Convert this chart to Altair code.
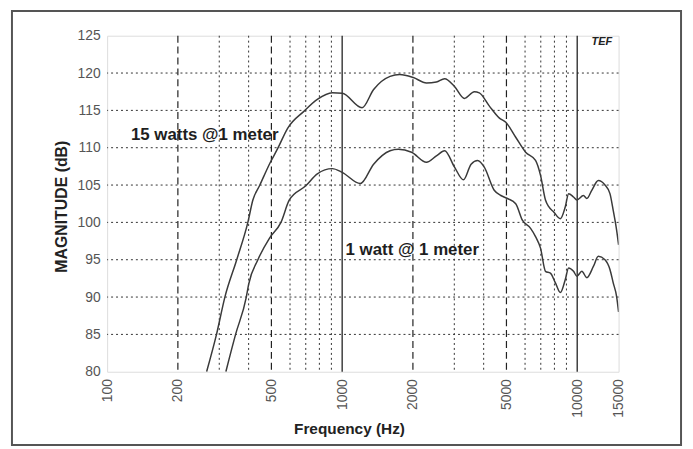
import altair as alt
import pandas as pd

# ---- data ----
freq_15w = [265, 292, 317, 356, 397, 417, 445, 495, 532, 586, 689, 784, 908, 1000,
            1215, 1361, 1599, 1757, 2007, 2284, 2517, 2729, 3007, 3314, 3651, 3833,
            4224, 4655, 4969, 5475, 6033, 6648, 6982, 7328, 7568, 7943, 8478, 8900,
            9191, 9647, 9970, 10631, 10990, 11535, 12300, 13128, 13783, 14231, 14707, 15000]
db_15w = [80, 85, 90, 95, 100, 103, 104.9, 108.05, 109.9, 112.6, 114.9, 116.46, 117.35, 117.3,
          115.35, 117.8, 119.56, 119.8, 119.4, 118.67, 118.8, 119.25, 118.2, 116.6, 117.5, 117.35,
          115.6, 114.0, 113.4, 111.4, 109.4, 108.3, 106.3, 103.0, 102.1, 101.4, 100.5, 102.1,
          103.85, 103.4, 103.0, 103.6, 103.2, 104.3, 105.6, 105.0, 103.85, 101.6, 99.0, 97.0]

freq_1w = [320, 352, 391, 400, 438, 491, 549, 596, 700, 784, 908, 1000, 1195, 1361, 1599,
           1735, 1974, 2284, 2517, 2729, 3007, 3281, 3536, 3774, 4024, 4436, 4733, 5050,
           5475, 5844, 6334, 6648, 6982, 7328, 7693, 8077, 8478, 8900, 9191, 9647, 9970,
           10466, 10990, 11718, 12300, 13128, 13783, 14231, 14707, 15000]
db_1w = [80, 85, 90, 91.7, 95, 97.9, 100, 103, 104.9, 106.5, 107.2, 106.7, 105.2, 107.8, 109.6,
         109.8, 109.4, 108.05, 108.9, 109.6, 107.4, 105.7, 107.8, 108.3, 107.4, 104.3, 103.6, 103.2,
         102.5, 100.3, 99.2, 98.1, 96.55, 93.45, 93.2, 91.9, 90.6, 92.35, 93.9, 93.45, 92.8,
         93.45, 92.6, 94.1, 95.45, 95.0, 93.7, 91.9, 90.1, 88.0]

x_ticks = [100, 200, 500, 1000, 2000, 5000, 10000, 15000]
y_ticks = [80, 85, 90, 95, 100, 105, 110, 115, 120, 125]
grid_db = [85, 90, 95, 100, 105, 110, 115, 120]
grid_dashed = [200, 500, 2000, 5000]
grid_dotted = [300, 400, 600, 700, 800, 900, 3000, 4000, 6000, 7000, 8000, 9000]
grid_solid = [1000, 10000]

label_text = ["15 watts @1 meter", "1 watt @ 1 meter"]
label_f = [126.3, 1034]
label_db = [111.73, 96.33]

logo_text = ["TEF"]
logo_f = [12735]
logo_db = [124.2]

# ---- tables ----
curves = pd.concat([
    pd.DataFrame({"f": freq_15w, "db": db_15w, "series": "15 W"}),
    pd.DataFrame({"f": freq_1w, "db": db_1w, "series": "1 W"}),
])
df_hgrid = pd.DataFrame({"db": grid_db})
df_dashed = pd.DataFrame({"f": grid_dashed})
df_dotted = pd.DataFrame({"f": grid_dotted})
df_solid = pd.DataFrame({"f": grid_solid})
df_labels = pd.DataFrame({"f": label_f, "db": label_db, "text": label_text})
df_logo = pd.DataFrame({"f": logo_f, "db": logo_db, "text": logo_text})

FONT = "Liberation Sans, Arial, Helvetica, sans-serif"

xscale = alt.Scale(type="log", domain=[100, 15000], nice=False)
yscale = alt.Scale(domain=[80, 125], nice=False, zero=False)

x_axis = alt.Axis(
    values=x_ticks, format="d", labelAngle=270, labelPadding=7, ticks=False,
    grid=False, domain=False, labelFlush=False, labelOverlap=False,
    labelFontSize=14, labelColor="#555", labelFont=FONT,
    title="Frequency (Hz)", titleFontSize=15.5, titleFontWeight="bold",
    titleColor="#222", titleFont=FONT, titleX=244, titleY=57,
    titleBaseline="middle", titleAlign="center",
)
y_axis = alt.Axis(
    values=y_ticks, labelPadding=7, ticks=False, grid=False, domain=False,
    labelFlush=False, labelOverlap=False,
    labelFontSize=14, labelColor="#555", labelFont=FONT,
    title="MAGNITUDE (dB)", titleFontSize=16, titleFontWeight="bold",
    titleColor="#222", titleFont=FONT, titleX=-46, titleY=172,
    titleAngle=270, titleBaseline="middle", titleAlign="center",
)

X = alt.X("f:Q", scale=xscale, axis=x_axis)
Y = alt.Y("db:Q", scale=yscale, axis=y_axis)

hgrid = alt.Chart(df_hgrid).mark_rule(color="#333", strokeWidth=1, strokeDash=[2, 3]).encode(y=Y)
vdashed = alt.Chart(df_dashed).mark_rule(color="#222", strokeWidth=1.2, strokeDash=[7, 4]).encode(x=X)
vdotted = alt.Chart(df_dotted).mark_rule(color="#333", strokeWidth=1, strokeDash=[2, 3]).encode(x=X)
vsolid = alt.Chart(df_solid).mark_rule(color="#222", strokeWidth=1.3).encode(x=X)

lines = alt.Chart(curves).mark_line(
    color="#3a3a3a", strokeWidth=1.5, interpolate="monotone", clip=True
).encode(x=X, y=Y, detail="series:N")

labels = alt.Chart(df_labels).mark_text(
    align="left", baseline="middle", font=FONT, fontSize=17,
    fontWeight="bold", color="#1e1e1e"
).encode(x=X, y=Y, text="text:N")

logo = alt.Chart(df_logo).mark_text(
    align="center", baseline="middle", font=FONT, fontSize=11,
    fontWeight="bold", fontStyle="italic", color="#222"
).encode(x=X, y=Y, text="text:N")

frame = alt.Chart(df_logo).mark_rect(
    filled=False, stroke="#555", strokeWidth=2
).encode(x=alt.value(-96), x2=alt.value(579), y=alt.value(-25), y2=alt.value(413))

chart = alt.layer(hgrid, vdotted, vdashed, vsolid, lines, labels, logo, frame).properties(
    width=516, height=339,
    autosize=alt.AutoSizeParams(type="none"),
    padding={"left": 100, "top": 26, "right": 67, "bottom": 76},
).configure_view(stroke="#222", strokeWidth=1.6).configure(background="white")

chart.save("out.html", embed_options={"renderer": "svg", "actions": False})
